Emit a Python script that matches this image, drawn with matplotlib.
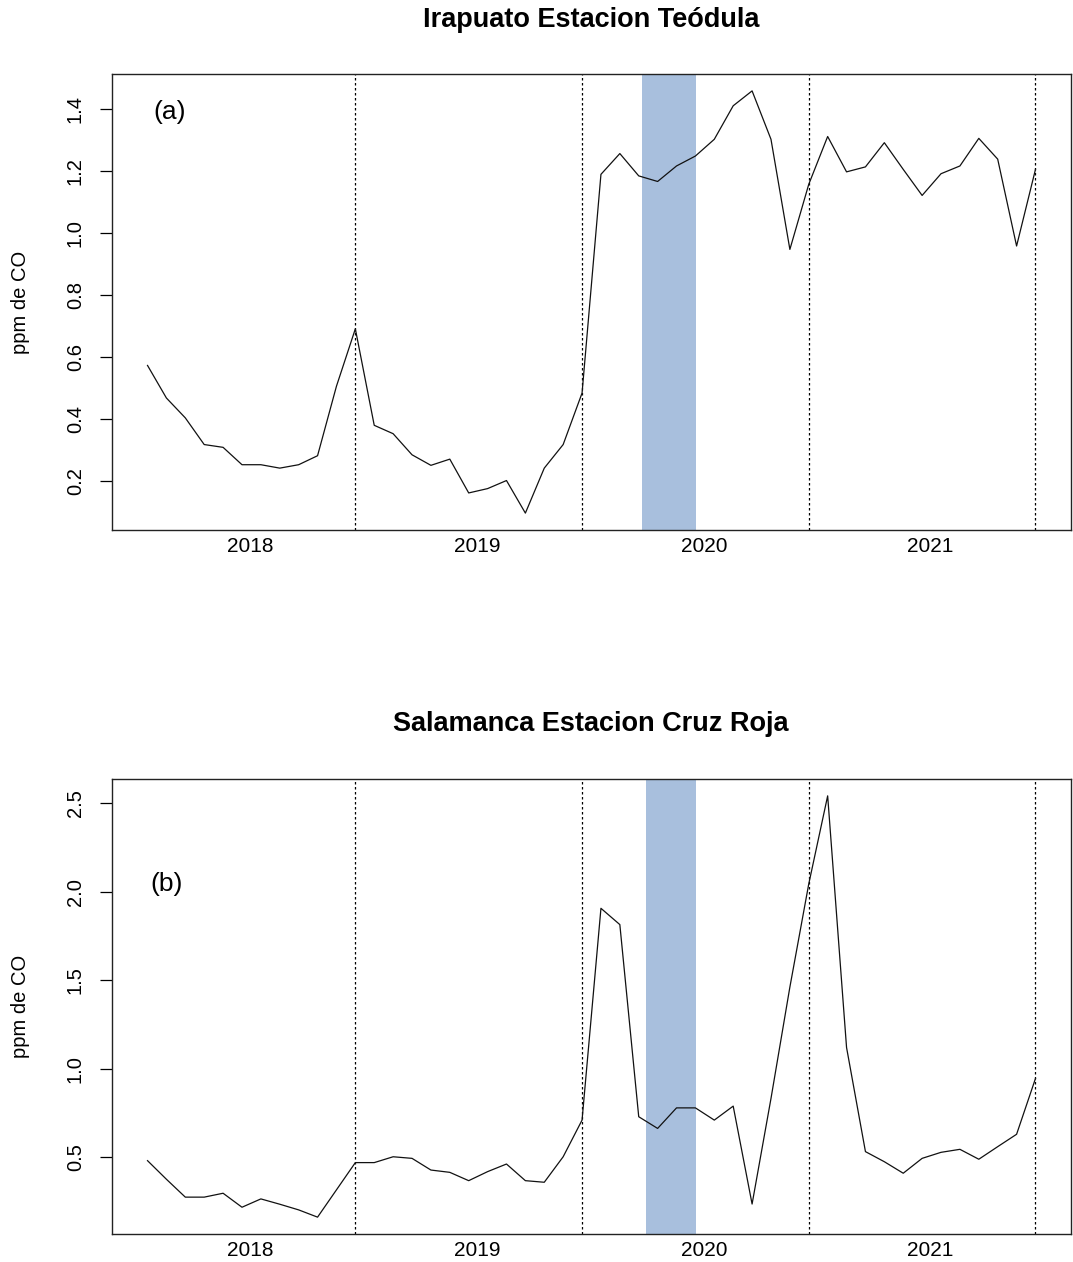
import matplotlib
matplotlib.use("Agg")
import matplotlib.pyplot as plt
import numpy as np

plt.rcParams['font.family'] = ['Liberation Sans', 'DejaVu Sans']

# ---- data (monthly, 48 months) ----
irapuato_co = [0.574, 0.469, 0.405, 0.319, 0.310, 0.254, 0.254, 0.243, 0.254, 0.283,
               0.507, 0.692, 0.381, 0.354, 0.286, 0.252, 0.272, 0.163, 0.177, 0.203,
               0.098, 0.243, 0.319, 0.485, 1.190, 1.257, 1.185, 1.167, 1.217, 1.249,
               1.303, 1.411, 1.459, 1.303, 0.948, 1.158, 1.312, 1.198, 1.214, 1.292,
               1.206, 1.122, 1.192, 1.217, 1.306, 1.239, 0.959, 1.206]
salamanca_co = [0.481, 0.376, 0.275, 0.275, 0.297, 0.218, 0.265, 0.235, 0.203, 0.162,
                0.316, 0.470, 0.470, 0.503, 0.494, 0.428, 0.415, 0.368, 0.419, 0.462,
                0.368, 0.359, 0.503, 0.710, 1.906, 1.814, 0.729, 0.663, 0.779, 0.779,
                0.710, 0.789, 0.236, 0.832, 1.461, 2.044, 2.541, 1.120, 0.532, 0.475,
                0.410, 0.494, 0.528, 0.545, 0.489, 0.560, 0.630, 0.945]
year_labels = ['2018', '2019', '2020', '2021']
year_label_pos = [5.45, 17.45, 29.45, 41.45]
year_breaks = [11, 23, 35, 47]
band_a = (26.17, 29.05)
band_b = (26.4, 29.05)
titles = ['Irapuato Estacion Teódula', 'Salamanca Estacion Cruz Roja']
panel_tags = ['(a)', '(b)']
yticks_a = [0.2, 0.4, 0.6, 0.8, 1.0, 1.2, 1.4]
yticks_b = [0.5, 1.0, 1.5, 2.0, 2.5]

W, H = 1073, 1262
fig = plt.figure(figsize=(W / 100, H / 100), dpi=100)

def rect(l, r, t, b):
    return [l / W, 1 - b / H, (r - l) / W, (b - t) / H]

panels = [
    dict(rect=rect(112, 1071, 74, 530), data=irapuato_co, band=band_a,
         yticks=yticks_a, fmt='{:.1f}', title=titles[0], tag=panel_tags[0],
         title_y=20, tag_xy=(170, 112)),
    dict(rect=rect(112, 1071, 779, 1234), data=salamanca_co, band=band_b,
         yticks=yticks_b, fmt='{:.1f}', title=titles[1], tag=panel_tags[1],
         title_y=724, tag_xy=(167, 884)),
]

for p in panels:
    ax = fig.add_axes(p['rect'])
    y = np.array(p['data'])
    x = np.arange(len(y))
    ax.axvspan(p['band'][0], p['band'][1], color='#A8BFDD', lw=0, zorder=1)
    for xb in year_breaks:
        ax.axvline(xb, color='black', lw=0.9, linestyle=(0, (2, 2)), zorder=2)
    ax.plot(x, y, color='#111111', lw=0.9, zorder=3)
    xr = x.max() - x.min()
    ax.set_xlim(x.min() - 0.04 * xr, x.max() + 0.04 * xr)
    yr = y.max() - y.min()
    ax.set_ylim(y.min() - 0.04 * yr, y.max() + 0.04 * yr)
    ax.set_xticks(year_label_pos)
    ax.set_xticklabels(year_labels, fontsize=15)
    ax.tick_params(axis='x', length=0, pad=5)
    ax.set_yticks(p['yticks'])
    ax.set_yticklabels([p['fmt'].format(v) for v in p['yticks']], fontsize=14.5,
                       rotation=90, va='center')
    ax.tick_params(axis='y', length=8.5, width=0.9, pad=11)
    for s in ax.spines.values():
        s.set_linewidth(1.0)
        s.set_color('#222222')
    # title
    fig.text(591 / W, 1 - p['title_y'] / H, p['title'], fontsize=19.5,
             fontweight='bold', ha='center', va='center')
    # y label
    cy = (p['rect'][1] + p['rect'][3] / 2)
    fig.text(21 / W, cy, 'ppm de CO', fontsize=14.5, rotation=90,
             ha='center', va='center')
    # panel tag
    fig.text(p['tag_xy'][0] / W, 1 - p['tag_xy'][1] / H, p['tag'], fontsize=19,
             ha='center', va='center')

fig.savefig('out.png', dpi=100)
